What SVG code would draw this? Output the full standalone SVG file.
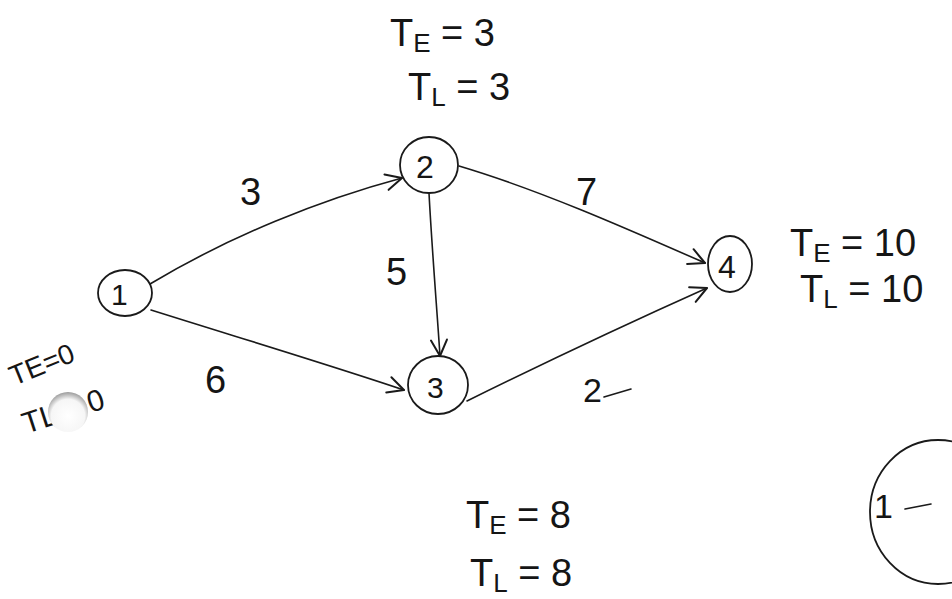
<svg xmlns="http://www.w3.org/2000/svg" width="952" height="599" viewBox="0 0 952 599">
  <defs>
    <style>
      .node { fill: none; stroke: #1a1a1a; stroke-width: 1.8; }
      .edge { fill: none; stroke: #1a1a1a; stroke-width: 1.6; stroke-linecap: round; }
      .hand { font-family: "Liberation Sans", "DejaVu Sans", sans-serif; fill: #151515; font-weight: normal; }
      .num { font-size: 38px; }
      .eq { font-size: 38px; }
      .sub { font-size: 26px; }
    </style>
    <marker id="arrow" viewBox="0 0 20 20" refX="18" refY="10" markerWidth="20" markerHeight="20" markerUnits="userSpaceOnUse" orient="auto">
      <path d="M2,2 L18,10 L2,18" fill="none" stroke="#1a1a1a" stroke-width="2" stroke-linecap="round" stroke-linejoin="round"/>
    </marker>
    <radialGradient id="smudge" cx="0.5" cy="0.6" r="0.6">
      <stop offset="0" stop-color="#ffffff"/>
      <stop offset="0.7" stop-color="#f6f6f6"/>
      <stop offset="1" stop-color="#9a9a9a"/>
    </radialGradient>
  </defs>

  <rect width="952" height="599" fill="#ffffff"/>

  <!-- connectors with their weights -->
  <g id="connectors">
    <path class="edge" d="M150,284 C230,236 320,200 402,178" marker-end="url(#arrow)"/>
    <path class="edge" d="M151,310 C240,338 330,365 404,390" marker-end="url(#arrow)"/>
    <path class="edge" d="M429,193 C432,250 437,310 440,356" marker-end="url(#arrow)"/>
    <path class="edge" d="M459,166 C540,190 630,230 705,263" marker-end="url(#arrow)"/>
    <path class="edge" d="M467,401 C550,360 640,318 707,288" marker-end="url(#arrow)"/>
    <text class="hand num" x="240" y="205">3</text>
    <text class="hand num" x="205" y="393">6</text>
    <text class="hand num" x="386" y="285">5</text>
    <text class="hand num" x="576" y="205">7</text>
    <text class="hand" x="583" y="402" font-size="34">2</text>
    <path class="edge" d="M604,397 L631,389"/>
  </g>

  <!-- node 1 -->
  <g id="node1">
    <ellipse class="node" cx="125" cy="293" rx="27" ry="23"/>
    <text class="hand" x="111" y="305" font-size="30">1</text>
  </g>

  <!-- node 2 -->
  <g id="node2">
    <ellipse class="node" cx="429" cy="165" rx="29" ry="28"/>
    <text class="hand" x="416" y="178" font-size="32">2</text>
  </g>

  <!-- node 3 -->
  <g id="node3">
    <ellipse class="node" cx="438" cy="385" rx="30" ry="29"/>
    <text class="hand" x="427" y="398" font-size="30">3</text>
  </g>

  <!-- node 4 -->
  <g id="node4">
    <ellipse class="node" cx="730" cy="264" rx="22" ry="28"/>
    <text class="hand" x="718" y="278" font-size="32">4</text>
  </g>

  <!-- earliest / latest event times -->
  <g id="times2">
    <text class="hand" x="390" y="46"><tspan class="eq">T</tspan><tspan class="sub" dy="6">E</tspan><tspan class="eq" dy="-6"> = 3</tspan></text>
    <text class="hand" x="408" y="100"><tspan class="eq">T</tspan><tspan class="sub" dy="6">L</tspan><tspan class="eq" dy="-6"> = 3</tspan></text>
  </g>
  <g id="times4">
    <text class="hand" x="790" y="256"><tspan class="eq">T</tspan><tspan class="sub" dy="6">E</tspan><tspan class="eq" dy="-6"> = 10</tspan></text>
    <text class="hand" x="800" y="302"><tspan class="eq">T</tspan><tspan class="sub" dy="6">L</tspan><tspan class="eq" dy="-6"> = 10</tspan></text>
  </g>
  <g id="times3">
    <text class="hand" x="466" y="528"><tspan class="eq">T</tspan><tspan class="sub" dy="6">E</tspan><tspan class="eq" dy="-6"> = 8</tspan></text>
    <text class="hand" x="470" y="586"><tspan class="eq">T</tspan><tspan class="sub" dy="6">L</tspan><tspan class="eq" dy="-6"> = 8</tspan></text>
  </g>
  <g id="times1">
    <text class="hand" x="14" y="386" font-size="28" transform="rotate(-22 14 386)">TE=0</text>
    <text class="hand" x="26" y="434" font-size="30" transform="rotate(-18 26 434)">TL = 0</text>
    <circle cx="68" cy="412" r="20" fill="url(#smudge)"/>
  </g>

  <!-- partial circle at right edge -->
  <g id="edgeCircle">
    <ellipse class="node" cx="938" cy="512" rx="68" ry="72"/>
    <text class="hand" x="874" y="518" font-size="34">1</text>
    <path class="edge" d="M905,509 L931,504"/>
  </g>
</svg>
